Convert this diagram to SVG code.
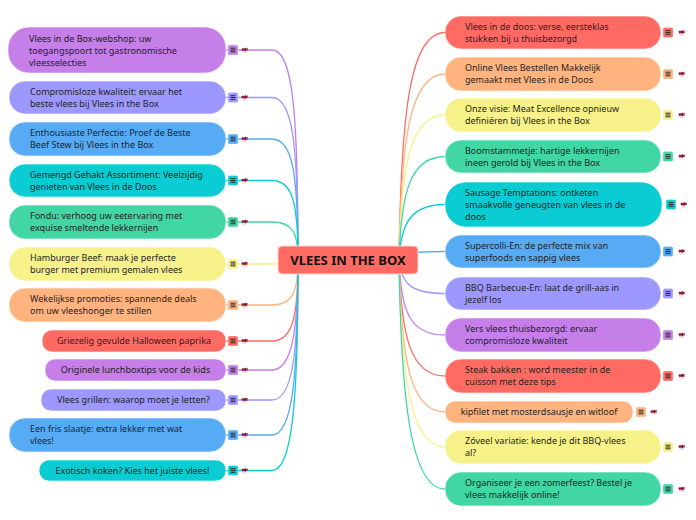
<svg xmlns="http://www.w3.org/2000/svg" xmlns:xlink="http://www.w3.org/1999/xlink" width="696" height="520" viewBox="0 0 696 520">
<style>
text{font-family:"Noto Sans","Open Sans","DejaVu Sans",sans-serif;font-size:9px;fill:#1f1f1f}
.c{fill:none;stroke-width:1.3}
.n{stroke:#ffffff;stroke-opacity:0.6;stroke-width:1}
.red{fill:#ff6b62}.ora{fill:#ffb37e}.yel{fill:#f7f18a}.gre{fill:#42d6a4}.cya{fill:#0bccd3}.blu{fill:#57abf5}.lav{fill:#9d98ff}.pur{fill:#c67ee8}
.sred{stroke:#ff6b62}.sora{stroke:#ffb37e}.syel{stroke:#f7f18a}.sgre{stroke:#42d6a4}.scya{stroke:#0bccd3}.sblu{stroke:#57abf5}.slav{stroke:#9d98ff}.spur{stroke:#c67ee8}
.ic{stroke:#ffffff;stroke-opacity:0.5;stroke-width:0.6}
.mid{text-anchor:middle}
.title{font-size:13px;font-weight:bold;fill:#111;text-anchor:middle}
</style>
<defs>
<g id="lines"><path d="M2.5,3.2H7.5M2.5,5H7.5M2.5,6.8H7.5" stroke="#2a2a2a" stroke-width="1" fill="none"/></g>
<g id="tag"><ellipse cx="3.5" cy="5.2" rx="2.6" ry="1.8" fill="#f2dfe5"/><path d="M0.3,2.6 L2,1.4 L3,2.2 L4.3,0.9 L5.4,1.9 L7,1.3 L6.3,3 L7.2,4.1 L5.2,3.9 L4.1,5 L3,3.9 L1.3,4.6 Z" fill="#8c1a3c"/></g>
</defs>
<g id="connectors">
<path class="c spur" d="M226,50 H272 C293,50 298,113 298,260"/>
<path class="c slav" d="M226,97.5 H272 C293,97.5 298,146 298,260"/>
<path class="c sblu" d="M226,139 H272 C293,139 298,175 298,260"/>
<path class="c scya" d="M226,180.5 H272 C293,180.5 298,204 298,260"/>
<path class="c sgre" d="M226,222 H272 C293,222 298,233 298,260"/>
<path class="c syel" d="M226,264 H298"/>
<path class="c sora" d="M226,305 H272 C293,305 298,291 298,260"/>
<path class="c sred" d="M226,341 H272 C293,341 298,316 298,260"/>
<path class="c spur" d="M226,370 H272 C293,370 298,326 298,260"/>
<path class="c slav" d="M226,400 H272 C293,400 298,352 298,260"/>
<path class="c sblu" d="M226,435 H272 C293,435 298,373 298,260"/>
<path class="c scya" d="M226,470.5 H272 C293,470.5 298,397 298,260"/>
<path class="c sred" d="M399,260 C401,112 410,32.5 445,32.5"/>
<path class="c sora" d="M399,260 C401,139 410,74 445,74"/>
<path class="c syel" d="M399,260 C401,166 410,115 445,115"/>
<path class="c sgre" d="M399,260 C401,193 410,156.5 445,156.5"/>
<path class="c scya" d="M399,260 C401,224 410,204.5 445,204.5"/>
<path class="c sblu" d="M399,260 C401,254 410,251.5 445,251.5"/>
<path class="c slav" d="M399,260 C401,283 410,293.5 445,293.5"/>
<path class="c spur" d="M399,260 C401,312 410,335 445,335"/>
<path class="c sred" d="M399,260 C401,335 410,376 445,376"/>
<path class="c sora" d="M399,260 C401,359 410,412 445,412"/>
<path class="c syel" d="M399,260 C401,375 410,447 445,447"/>
<path class="c sgre" d="M399,260 C401,396 410,489 445,489"/>
</g>
<g id="center">
<rect x="278" y="246" width="140" height="28" rx="4" class="red" stroke="#ffd6d2" stroke-width="1"/>
<text x="348" y="264.5" class="title">VLEES IN THE BOX</text>
</g>
<g id="l1"><rect class="n pur" x="8" y="27" width="218" height="46" rx="21"/><text x="29"><tspan x="29" y="41.5">Vlees in de Box-webshop: uw</tspan><tspan x="29" y="53.5">toegangspoort tot gastronomische</tspan><tspan x="29" y="65.5">vleesselecties</tspan></text><rect class="ic pur" x="228" y="45" width="10" height="10" rx="1.5"/><use xlink:href="#lines" x="228" y="45"/><use xlink:href="#tag" x="241" y="46.5"/></g>
<g id="l2"><rect class="n lav" x="9" y="81" width="217" height="33" rx="16"/><text><tspan x="30" y="94.5">Compromisloze kwaliteit: ervaar het</tspan><tspan x="30" y="106.5">beste vlees bij Vlees in the Box</tspan></text><rect class="ic lav" x="228" y="92.5" width="10" height="10" rx="1.5"/><use xlink:href="#lines" x="228" y="92.5"/><use xlink:href="#tag" x="241" y="94"/></g>
<g id="l3"><rect class="n blu" x="9" y="122" width="217" height="34" rx="16"/><text><tspan x="30" y="136">Enthousiaste Perfectie: Proef de Beste</tspan><tspan x="30" y="148">Beef Stew bij Vlees in the Box</tspan></text><rect class="ic blu" x="228" y="134" width="10" height="10" rx="1.5"/><use xlink:href="#lines" x="228" y="134"/><use xlink:href="#tag" x="241" y="135.5"/></g>
<g id="l4"><rect class="n cya" x="9" y="164" width="217" height="33" rx="16"/><text><tspan x="30" y="177.5">Gemengd Gehakt Assortiment: Veelzijdig</tspan><tspan x="30" y="189.5">genieten van Vlees in de Doos</tspan></text><rect class="ic cya" x="228" y="175.5" width="10" height="10" rx="1.5"/><use xlink:href="#lines" x="228" y="175.5"/><use xlink:href="#tag" x="241" y="177"/></g>
<g id="l5"><rect class="n gre" x="9" y="205" width="217" height="34" rx="16"/><text><tspan x="30" y="219">Fondu: verhoog uw eetervaring met</tspan><tspan x="30" y="231">exquise smeltende lekkernijen</tspan></text><rect class="ic gre" x="228" y="217" width="10" height="10" rx="1.5"/><use xlink:href="#lines" x="228" y="217"/><use xlink:href="#tag" x="241" y="218.5"/></g>
<g id="l6"><rect class="n yel" x="9" y="247" width="217" height="34" rx="16"/><text><tspan x="30" y="261">Hamburger Beef: maak je perfecte</tspan><tspan x="30" y="273">burger met premium gemalen vlees</tspan></text><rect class="ic yel" x="228" y="259" width="10" height="10" rx="1.5"/><use xlink:href="#lines" x="228" y="259"/><use xlink:href="#tag" x="241" y="260.5"/></g>
<g id="l7"><rect class="n ora" x="9" y="288" width="217" height="34" rx="16"/><text><tspan x="30" y="302">Wekelijkse promoties: spannende deals</tspan><tspan x="30" y="314">om uw vleeshonger te stillen</tspan></text><rect class="ic ora" x="228" y="300" width="10" height="10" rx="1.5"/><use xlink:href="#lines" x="228" y="300"/><use xlink:href="#tag" x="241" y="301.5"/></g>
<g id="l8"><rect class="n red" x="42" y="330" width="184" height="22" rx="10"/><text class="mid" x="134" y="344">Griezelig gevulde Halloween paprika</text><rect class="ic red" x="228" y="336" width="10" height="10" rx="1.5"/><use xlink:href="#lines" x="228" y="336"/><use xlink:href="#tag" x="241" y="337.5"/></g>
<g id="l9"><rect class="n pur" x="45" y="359" width="181" height="22" rx="10"/><text class="mid" x="135.5" y="373">Originele lunchboxtips voor de kids</text><rect class="ic pur" x="228" y="365" width="10" height="10" rx="1.5"/><use xlink:href="#lines" x="228" y="365"/><use xlink:href="#tag" x="241" y="366.5"/></g>
<g id="l10"><rect class="n lav" x="41" y="389" width="185" height="22" rx="10"/><text class="mid" x="133.5" y="403">Vlees grillen: waarop moet je letten?</text><rect class="ic lav" x="228" y="395" width="10" height="10" rx="1.5"/><use xlink:href="#lines" x="228" y="395"/><use xlink:href="#tag" x="241" y="396.5"/></g>
<g id="l11"><rect class="n blu" x="9" y="418" width="217" height="34" rx="16"/><text><tspan x="30" y="432">Een fris slaatje: extra lekker met wat</tspan><tspan x="30" y="444">vlees!</tspan></text><rect class="ic blu" x="228" y="430" width="10" height="10" rx="1.5"/><use xlink:href="#lines" x="228" y="430"/><use xlink:href="#tag" x="241" y="431.5"/></g>
<g id="l12"><rect class="n cya" x="39" y="460" width="187" height="21" rx="10"/><text class="mid" x="132.5" y="473.5">Exotisch koken? Kies het juiste vlees!</text><rect class="ic cya" x="228" y="465.5" width="10" height="10" rx="1.5"/><use xlink:href="#lines" x="228" y="465.5"/><use xlink:href="#tag" x="241" y="467"/></g>
<g id="r1"><rect class="n red" x="445" y="16" width="216" height="33" rx="16"/><text><tspan x="465" y="29.5">Vlees in de doos: verse, eersteklas</tspan><tspan x="465" y="41.5">stukken bij u thuisbezorgd</tspan></text><rect class="ic red" x="663" y="27.5" width="10" height="10" rx="1.5"/><use xlink:href="#lines" x="663" y="27.5"/><use xlink:href="#tag" x="678" y="29"/></g>
<g id="r2"><rect class="n ora" x="445" y="57" width="216" height="34" rx="16"/><text><tspan x="465" y="71">Online Vlees Bestellen Makkelijk</tspan><tspan x="465" y="83">gemaakt met Vlees in de Doos</tspan></text><rect class="ic ora" x="663" y="69" width="10" height="10" rx="1.5"/><use xlink:href="#lines" x="663" y="69"/><use xlink:href="#tag" x="678" y="70.5"/></g>
<g id="r3"><rect class="n yel" x="445" y="98" width="216" height="34" rx="16"/><text><tspan x="465" y="112">Onze visie: Meat Excellence opnieuw</tspan><tspan x="465" y="124">definiëren bij Vlees in the Box</tspan></text><rect class="ic yel" x="663" y="110" width="10" height="10" rx="1.5"/><use xlink:href="#lines" x="663" y="110"/><use xlink:href="#tag" x="678" y="111.5"/></g>
<g id="r4"><rect class="n gre" x="445" y="140" width="216" height="33" rx="16"/><text><tspan x="465" y="153.5">Boomstammetje: hartige lekkernijen</tspan><tspan x="465" y="165.5">ineen gerold bij Vlees in the Box</tspan></text><rect class="ic gre" x="663" y="151.5" width="10" height="10" rx="1.5"/><use xlink:href="#lines" x="663" y="151.5"/><use xlink:href="#tag" x="678" y="153"/></g>
<g id="r5"><rect class="n cya" x="445" y="182" width="217" height="45" rx="21"/><text><tspan x="465" y="196">Sausage Temptations: ontketen</tspan><tspan x="465" y="208">smaakvolle geneugten van vlees in de</tspan><tspan x="465" y="220">doos</tspan></text><rect class="ic cya" x="666" y="199.5" width="10" height="10" rx="1.5"/><use xlink:href="#lines" x="666" y="199.5"/><use xlink:href="#tag" x="680" y="201"/></g>
<g id="r6"><rect class="n blu" x="445" y="235" width="216" height="33" rx="16"/><text><tspan x="465" y="248.5">Supercolli-En: de perfecte mix van</tspan><tspan x="465" y="260.5">superfoods en sappig vlees</tspan></text><rect class="ic blu" x="663" y="246.5" width="10" height="10" rx="1.5"/><use xlink:href="#lines" x="663" y="246.5"/><use xlink:href="#tag" x="678" y="248"/></g>
<g id="r7"><rect class="n lav" x="445" y="277" width="216" height="33" rx="16"/><text><tspan x="465" y="290.5">BBQ Barbecue-En: laat de grill-aas in</tspan><tspan x="465" y="302.5">jezelf los</tspan></text><rect class="ic lav" x="663" y="288.5" width="10" height="10" rx="1.5"/><use xlink:href="#lines" x="663" y="288.5"/><use xlink:href="#tag" x="678" y="290"/></g>
<g id="r8"><rect class="n pur" x="445" y="318" width="216" height="34" rx="16"/><text><tspan x="465" y="332">Vers vlees thuisbezorgd: ervaar</tspan><tspan x="465" y="344">compromisloze kwaliteit</tspan></text><rect class="ic pur" x="663" y="330" width="10" height="10" rx="1.5"/><use xlink:href="#lines" x="663" y="330"/><use xlink:href="#tag" x="678" y="331.5"/></g>
<g id="r9"><rect class="n red" x="445" y="359" width="216" height="34" rx="16"/><text><tspan x="465" y="373">Steak bakken : word meester in de</tspan><tspan x="465" y="385">cuisson met deze tips</tspan></text><rect class="ic red" x="663" y="371" width="10" height="10" rx="1.5"/><use xlink:href="#lines" x="663" y="371"/><use xlink:href="#tag" x="678" y="372.5"/></g>
<g id="r10"><rect class="n ora" x="445" y="401" width="188" height="22" rx="10"/><text class="mid" x="539" y="415">kipfilet met mosterdsausje en witloof</text><rect class="ic ora" x="636" y="407" width="10" height="10" rx="1.5"/><use xlink:href="#lines" x="636" y="407"/><use xlink:href="#tag" x="650" y="408.5"/></g>
<g id="r11"><rect class="n yel" x="445" y="430" width="216" height="34" rx="16"/><text><tspan x="465" y="444">Zóveel variatie: kende je dit BBQ-vlees</tspan><tspan x="465" y="456">al?</tspan></text><rect class="ic yel" x="663" y="442" width="10" height="10" rx="1.5"/><use xlink:href="#lines" x="663" y="442"/><use xlink:href="#tag" x="678" y="443.5"/></g>
<g id="r12"><rect class="n gre" x="445" y="472" width="216" height="34" rx="16"/><text><tspan x="465" y="486">Organiseer je een zomerfeest? Bestel je</tspan><tspan x="465" y="498">vlees makkelijk online!</tspan></text><rect class="ic gre" x="663" y="484" width="10" height="10" rx="1.5"/><use xlink:href="#lines" x="663" y="484"/><use xlink:href="#tag" x="678" y="485.5"/></g>
</svg>
